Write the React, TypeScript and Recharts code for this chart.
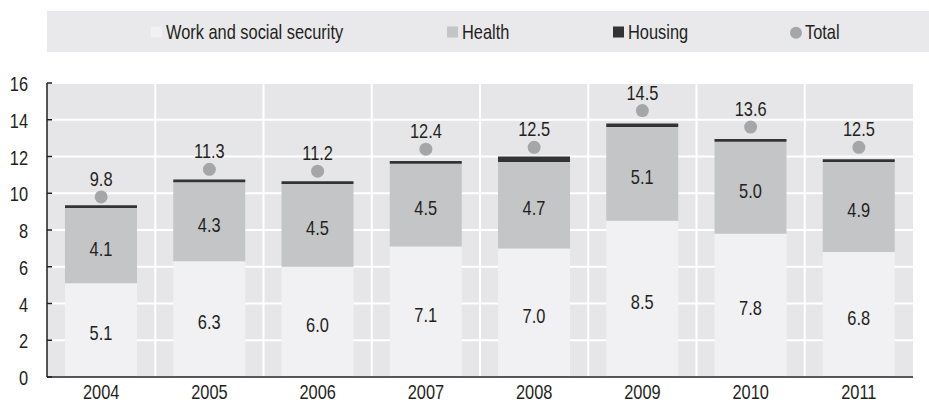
import React from 'react';
import {
  ComposedChart,
  Bar,
  Line,
  XAxis,
  YAxis,
  CartesianGrid,
  LabelList,
  Legend,
} from 'recharts';

// Public social spending by area, % of GDP
const years = ['2004', '2005', '2006', '2007', '2008', '2009', '2010', '2011'];
const workSocialSecurity = [5.1, 6.3, 6.0, 7.1, 7.0, 8.5, 7.8, 6.8];
const health = [4.1, 4.3, 4.5, 4.5, 4.7, 5.1, 5.0, 4.9];
const housing = [0.15, 0.15, 0.15, 0.15, 0.3, 0.2, 0.15, 0.15];
const total = [9.8, 11.3, 11.2, 12.4, 12.5, 14.5, 13.6, 12.5];
const yTicks = [0, 2, 4, 6, 8, 10, 12, 14, 16];

const seriesNames = {
  work: 'Work and social security',
  health: 'Health',
  housing: 'Housing',
  total: 'Total',
};

const rows = years.map((year, i) => ({
  year,
  work: workSocialSecurity[i],
  health: health[i],
  housing: housing[i],
  total: total[i],
}));

// Liberation Sans squeezed horizontally to stand in for a narrow sans
const FONT = "'Liberation Sans', Arial, sans-serif";
const NARROW = 0.82;
const FONT_SIZE = 20;
const INK = '#231f20';
const COLORS = {
  work: '#f1f1f3',
  health: '#c4c5c7',
  housing: '#333333',
  total: '#a5a6a8',
  plot: '#e6e6e8',
  legend: '#e9e9eb',
  grid: '#ffffff',
};

type NarrowProps = {
  x: number;
  y: number;
  anchor?: 'start' | 'middle' | 'end';
  size?: number;
  children: React.ReactNode;
};

const NarrowText = ({ x, y, anchor = 'middle', size = FONT_SIZE, children }: NarrowProps) => (
  <text
    transform={`translate(${x},${y}) scale(${NARROW},1)`}
    textAnchor={anchor}
    fontFamily={FONT}
    fontSize={size}
    fill={INK}
  >
    {children}
  </text>
);

const legendOrder = ['work', 'health', 'housing', 'total'];
// left edge of each swatch inside the legend strip
const legendSlots = [104, 400, 566, 743];

const renderLegend = (props: any) => {
  const items = [...(props.payload || [])].sort(
    (a: any, b: any) => legendOrder.indexOf(a.dataKey) - legendOrder.indexOf(b.dataKey)
  );
  return (
    <svg width={882} height={41} style={{ display: 'block', background: COLORS.legend }}>
      {items.map((entry: any, i: number) => {
        const key = entry.dataKey as keyof typeof COLORS;
        const left = legendSlots[i];
        return (
          <g key={String(key)}>
            {key === 'total' ? (
              <circle cx={left + 6} cy={21.8} r={6} fill={COLORS.total} />
            ) : (
              <rect x={left} y={15.5} width={11} height={11} fill={COLORS[key]} />
            )}
            <NarrowText x={left + 15} y={28.3} anchor="start">
              {entry.value}
            </NarrowText>
          </g>
        );
      })}
    </svg>
  );
};

const segmentLabel = (props: any) => {
  const { x, y, width, height, value } = props;
  return (
    <NarrowText x={Number(x) + Number(width) / 2} y={Number(y) + Number(height) / 2 + 10}>
      {Number(value).toFixed(1)}
    </NarrowText>
  );
};

const totalLabel = (props: any) => {
  const vb = props.viewBox || {};
  const x = Number(props.x ?? vb.x);
  const y = Number(props.y ?? vb.y);
  return <NarrowText x={x} y={y - 11}>{Number(props.value).toFixed(1)}</NarrowText>;
};

const XTick = (props: any) => (
  <NarrowText x={props.x} y={props.y + 12.5}>
    {props.payload.value}
  </NarrowText>
);

const YTick = (props: any) => (
  <NarrowText x={props.x} y={props.y + 8} anchor="end">
    {props.payload.value}
  </NarrowText>
);

const frame = { stroke: INK, strokeWidth: 1.5 };

// White vertical grid lines sit on the boundaries between year bands
const bandBoundaries = ({ offset }: any) =>
  years.slice(1).map((_, i) => offset.left + ((i + 1) * offset.width) / years.length);

export default function App() {
  return (
    <div style={{ position: 'absolute', left: 0, top: 0 }}>
      <ComposedChart
        width={929}
        height={403}
        data={rows}
        margin={{ top: 83, right: 16, bottom: 0, left: 0 }}
        barSize={72}
      >
        <CartesianGrid
          fill={COLORS.plot}
          stroke={COLORS.grid}
          strokeWidth={2}
          verticalCoordinatesGenerator={bandBoundaries}
        />
        <XAxis
          dataKey="year"
          height={26}
          interval={0}
          tickLine={false}
          tickMargin={3}
          axisLine={frame}
          tick={<XTick />}
        />
        <XAxis
          xAxisId="top"
          orientation="top"
          dataKey="year"
          height={0}
          tick={false}
          tickLine={false}
          axisLine={frame}
        />
        <YAxis
          domain={[0, 16]}
          ticks={yTicks}
          interval={0}
          width={47}
          tickSize={-5}
          tickMargin={24}
          axisLine={frame}
          tickLine={frame}
          tick={<YTick />}
        />
        <YAxis
          yAxisId="right"
          orientation="right"
          domain={[0, 16]}
          width={0}
          tick={false}
          tickLine={false}
          axisLine={frame}
        />
        <Legend
          verticalAlign="middle"
          align="center"
          layout="horizontal"
          wrapperStyle={{ top: 11, left: 47, width: 882, height: 41 }}
          content={renderLegend}
        />
        <Bar dataKey="work" name={seriesNames.work} stackId="s" fill={COLORS.work} isAnimationActive={false}>
          <LabelList dataKey="work" content={segmentLabel} />
        </Bar>
        <Bar dataKey="health" name={seriesNames.health} stackId="s" fill={COLORS.health} isAnimationActive={false}>
          <LabelList dataKey="health" content={segmentLabel} />
        </Bar>
        <Bar dataKey="housing" name={seriesNames.housing} stackId="s" fill={COLORS.housing} isAnimationActive={false} />
        <Line
          dataKey="total"
          name={seriesNames.total}
          stroke="none"
          legendType="circle"
          dot={{ r: 6.5, fill: COLORS.total, stroke: 'none', strokeWidth: 0 }}
          activeDot={false}
          isAnimationActive={false}
        >
          <LabelList dataKey="total" content={totalLabel} />
        </Line>
      </ComposedChart>
    </div>
  );
}
